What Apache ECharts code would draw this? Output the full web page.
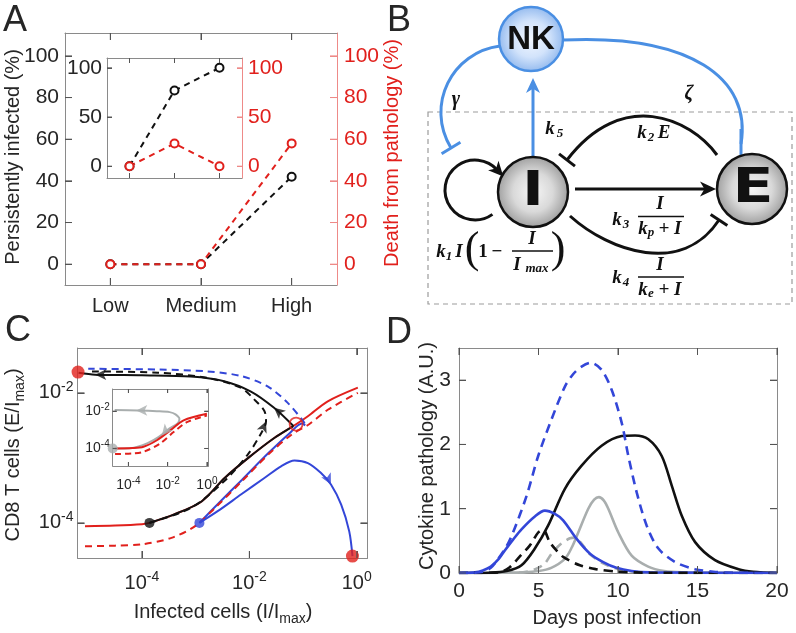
<!DOCTYPE html>
<html><head><meta charset="utf-8">
<script src="https://cdn.jsdelivr.net/npm/echarts@6/dist/echarts.min.js"></script>
<style>html,body{margin:0;padding:0;background:#fff}#c{width:796px;height:633px}</style>
</head><body><div id="c"></div>
<script>
// ---------------- Panel A data ----------------
const aCategories = ['Low', 'Medium', 'High'];
const aPersistent = [0, 0, 42];
const aDeath = [0, 0, 58];
const aTicks = [0, 20, 40, 60, 80, 100];
const aInsetPersistent = [0, 77, 100];
const aInsetDeath = [0, 23, 0];
const aInsetTicks = [0, 50, 100];

// ---------------- Panel C data (log10 units) ----------------
const cTicksX = [-4, -2, 0];
const cTicksY = [-4, -2];
const cRedSolid = [[-5.06,-4.05],[-4.5,-4.04],[-4,-4.02],[-3.86,-4.0],[-3.4,-3.87],[-2.89,-3.67],[-2.46,-3.31],[-2.02,-3.0],[-1.53,-2.69],[-1.18,-2.51],[-0.91,-2.36],[-0.54,-2.13],[0.02,-1.92]];
const cRedDashed = [[-5.06,-4.36],[-4.5,-4.35],[-4,-4.33],[-3.45,-4.23],[-3.01,-4.05],[-2.64,-3.77],[-2.14,-3.36],[-1.65,-2.95],[-1.21,-2.64],[-0.9,-2.49],[-0.54,-2.26],[0.02,-2.0]];
const cBlackSolidUp = [[-3.86,-4.0],[-3.4,-3.87],[-2.89,-3.67],[-2.46,-3.31],[-2.02,-3.0],[-1.53,-2.69],[-1.18,-2.51]];
const cBlackSolidTop = [[-1.18,-2.51],[-1.54,-2.23],[-1.97,-1.98],[-2.47,-1.82],[-3.09,-1.75],[-4.0,-1.73],[-4.87,-1.72],[-5.18,-1.69]];
const cBlackDashed = [[-3.86,-4.0],[-3.09,-3.77],[-2.47,-3.36],[-2.03,-2.95],[-1.78,-2.62],[-1.69,-2.44],[-1.72,-2.28],[-1.91,-2.1],[-2.16,-1.92],[-2.78,-1.77],[-3.7,-1.69],[-5.0,-1.67]];
const cBlueDashed = [[-0.97,-2.47],[-1.01,-2.42],[-1.29,-2.15],[-1.66,-1.9],[-2.16,-1.74],[-2.78,-1.67],[-3.7,-1.64],[-5.0,-1.63]];
const cBlueSolidUp = [[-2.93,-4.0],[-2.6,-3.72],[-2.14,-3.34],[-1.65,-2.93],[-1.25,-2.62],[-1.02,-2.47],[-0.96,-2.5]];
const cBlueSolidArc = [[-2.93,-4.0],[-2.59,-3.82],[-2.15,-3.56],[-1.72,-3.31],[-1.41,-3.13],[-1.16,-3.04],[-0.91,-3.08],[-0.67,-3.23],[-0.48,-3.41],[-0.29,-3.72],[-0.14,-4.13],[-0.08,-4.51]];
const cRedDots = [[-5.19,-1.68],[-0.08,-4.51]];
const cBlackDot = [[-3.86,-4.0]];
const cBlueDot = [[-2.93,-4.0]];
const cOpenCircle = [[-1.13,-2.48]];
const cBlackArrows = [[-4.87,-1.72,90],[-1.54,-2.23,50],[-1.69,-2.44,-23]];
const cBlueArrows = [[-0.48,-3.41,-153]];
// inset of C
const ciRedSolid = [[-4.68,-4.0],[-3.8,-3.98],[-3.23,-3.91],[-2.55,-3.56],[-1.87,-3.03],[-1.19,-2.49],[0.0,-2.14]];
const ciRedDashed = [[-4.68,-4.3],[-3.8,-4.27],[-3.23,-4.18],[-2.38,-3.73],[-1.7,-3.12],[-1.02,-2.59],[0.0,-2.23]];
const ciGray = [[-4.8,-4.0],[-3.8,-3.97],[-3.0,-3.7],[-2.45,-3.38],[-1.9,-2.92],[-1.5,-2.66],[-1.4,-2.42],[-1.6,-2.17],[-1.9,-2.05],[-2.55,-2.0],[-3.5,-1.96],[-4.7,-1.93]];
const ciGrayDot = [[-4.8,-4.0]];
const ciGrayArrows = [[-3.6,-1.96,90],[-2.3,-3.3,140]];

// ---------------- Panel D data ----------------
const dBlueDashed = [[0,0],[1,0.005],[1.5,0.02],[2,0.08],[2.46,0.22],[3,0.42],[3.4,0.63],[4.25,1.2],[4.98,1.82],[5.82,2.39],[6.66,2.9],[7.2,3.1],[7.71,3.21],[8.3,3.27],[8.97,3.16],[9.6,2.85],[10.23,2.34],[10.65,1.82],[11.18,1.25],[11.8,0.74],[12.54,0.38],[13.6,0.17],[14.85,0.06],[16,0.02],[17,0.005],[20,0]];
const dBlackSolid = [[0,0],[2,0.005],[3,0.03],[3.93,0.12],[4.77,0.38],[5.61,0.74],[6.66,1.31],[7.71,1.67],[8.97,1.98],[10.23,2.13],[11.07,2.14],[11.91,2.08],[12.75,1.82],[13.38,1.36],[14.01,0.89],[14.85,0.48],[16.1,0.2],[17.58,0.06],[18.5,0.02],[20,0]];
const dBlueSolid = [[0,0],[1,0.01],[1.5,0.04],[2,0.1],[2.5,0.22],[2.88,0.35],[3.4,0.52],[3.93,0.68],[4.77,0.88],[5.4,0.97],[6.03,0.92],[6.55,0.82],[7.4,0.53],[8.24,0.3],[9.07,0.17],[9.9,0.08],[10.86,0.03],[12,0.01],[20,0]];
const dBlackDashed = [[0,0],[2.5,0.01],[3.19,0.09],[3.8,0.25],[4.46,0.43],[4.98,0.63],[5.3,0.67],[5.71,0.48],[6.1,0.36],[6.55,0.25],[7.6,0.12],[8.6,0.06],[10,0.02],[12,0.005],[20,0]];
const dGraySolid = [[0,0],[3,0.005],[4,0.01],[5,0.03],[5.8,0.08],[6.66,0.22],[7.1,0.4],[7.5,0.63],[8.13,1.0],[8.5,1.14],[8.8,1.18],[9.1,1.13],[9.39,1.0],[10.02,0.63],[10.86,0.27],[11.9,0.1],[12.9,0.03],[14,0.01],[20,0]];
const dGrayDashed = [[0,0],[4,0.01],[4.8,0.06],[5.4,0.15],[5.82,0.3],[6.4,0.45],[6.98,0.54],[7.3,0.55],[7.7,0.46],[8.24,0.29],[9.07,0.15],[10,0.06],[11,0.02],[12,0.005],[20,0]];
const dTicksX = [0, 5, 10, 15, 20];
const dTicksY = [0, 1, 2, 3];

// ---------------- styling ----------------
const FONT = "'Liberation Sans', Arial, Helvetica, sans-serif";
const SERIF = "'Liberation Serif', 'DejaVu Serif', serif";
const AX = '#8a8a8a';
const TK = '#555555';
const TXT = '#262626';
const RED = '#e1201c';
const RED_AX = '#ee8a88';
const BLUE = '#3346d8';
const GRAY = '#a9aeae';
const BBLUE = '#4a8fe3';

function ax(base, tickVals, labelOpt, color, tickLen, tickColor) {
  const isCat = base.type === 'category';
  const tick = { show: true, inside: true, length: tickLen || 7, lineStyle: { color: tickColor || TK, width: 1 } };
  if (isCat) tick.alignWithLabel = true;
  if (tickVals) tick.customValues = tickVals;
  const a = Object.assign({
    axisLine: { show: true, onZero: false, lineStyle: { color: color || AX, width: 1 } },
    axisTick: tick,
    splitLine: { show: false },
    axisLabel: { show: false }
  }, base);
  if (labelOpt) {
    a.axisLabel = Object.assign({ show: true, color: TXT, fontSize: 21, fontFamily: FONT }, labelOpt);
    if (isCat) a.axisLabel.interval = 0;
    if (tickVals && !labelOpt.customValues) a.axisLabel.customValues = tickVals;
  }
  return a;
}
const supRich = (size, sup) => ({
  b: { fontSize: size, fontFamily: FONT, color: TXT },
  s: { fontSize: sup, fontFamily: FONT, color: TXT, padding: [0, 0, Math.round(size * 0.6), 0] }
});
const pow10 = v => '{b|10}{s|' + (Math.abs(v) < 1e-9 ? '0' : String(Math.round(v))) + '}';

const xAxes = [
  ax({ gridIndex: 0, type: 'category', data: aCategories, position: 'bottom', boundaryGap: true }, null, { margin: 11, fontSize: 20 }),
  ax({ gridIndex: 0, type: 'category', data: aCategories, position: 'top', boundaryGap: true }),
  ax({ gridIndex: 1, type: 'category', data: aCategories, position: 'bottom', boundaryGap: true }, null, null, null, 5),
  ax({ gridIndex: 1, type: 'category', data: aCategories, position: 'top', boundaryGap: true }, null, null, null, 5),
  ax({ gridIndex: 2, type: 'value', min: -5.2, max: 0.2, position: 'bottom' }, cTicksX, { formatter: pow10, rich: supRich(20, 14), margin: 12 }),
  ax({ gridIndex: 2, type: 'value', min: -5.2, max: 0.2, position: 'top' }, cTicksX),
  ax({ gridIndex: 3, type: 'value', min: -4.8, max: 0.07, position: 'bottom' }, cTicksX, { formatter: pow10, rich: supRich(14, 10), margin: 10 }, null, 4),
  ax({ gridIndex: 3, type: 'value', min: -4.8, max: 0.07, position: 'top' }, cTicksX, null, null, 4),
  ax({ gridIndex: 4, type: 'value', min: 0, max: 20, position: 'bottom' }, dTicksX, { margin: 8 }),
  ax({ gridIndex: 4, type: 'value', min: 0, max: 20, position: 'top' }, dTicksX)
];

const yAxes = [
  ax({ gridIndex: 0, type: 'value', min: -10, max: 111, position: 'left' }, aTicks, { margin: 6 }),
  ax({ gridIndex: 0, type: 'value', min: -10, max: 111, position: 'right' }, aTicks, { margin: 7, color: RED }, RED_AX, 7, RED_AX),
  ax({ gridIndex: 1, type: 'value', min: -12, max: 110, position: 'left' }, aInsetTicks, { margin: 5 }, null, 5),
  ax({ gridIndex: 1, type: 'value', min: -12, max: 110, position: 'right' }, aInsetTicks, { margin: 6, color: RED }, RED_AX, 5, RED_AX),
  ax({ gridIndex: 2, type: 'value', min: -4.54, max: -1.31, position: 'left' }, cTicksY, { formatter: pow10, rich: supRich(20, 14), margin: 4 }),
  ax({ gridIndex: 2, type: 'value', min: -4.54, max: -1.31, position: 'right' }, cTicksY),
  ax({ gridIndex: 3, type: 'value', min: -4.94, max: -0.81, position: 'left' }, cTicksY, { formatter: pow10, rich: supRich(14, 10), margin: 3 }, null, 4),
  ax({ gridIndex: 3, type: 'value', min: -4.94, max: -0.81, position: 'right' }, cTicksY, null, null, 4),
  ax({ gridIndex: 4, type: 'value', min: 0, max: 3.5, position: 'left' }, dTicksY, { margin: 8 }),
  ax({ gridIndex: 4, type: 'value', min: 0, max: 3.5, position: 'right' }, dTicksY)
];

function lineS(data, xi, yi, color, width, dash, smooth, z) {
  return { type: 'line', data, xAxisIndex: xi, yAxisIndex: yi, symbol: 'none', smooth: smooth,
    lineStyle: { color, width, type: dash || 'solid', cap: 'butt' }, z: z || 2, silent: true, animation: false };
}
function markA(data, xi, yi, color) {
  return { type: 'line', data, xAxisIndex: xi, yAxisIndex: yi, symbol: 'emptyCircle', symbolSize: 8,
    itemStyle: { color: color, borderColor: color, borderWidth: 1.8 },
    lineStyle: { color, width: 2, type: [6, 5] }, z: 3, silent: true, animation: false };
}
function dots(data, xi, yi, color, size, z) {
  return { type: 'scatter', data, xAxisIndex: xi, yAxisIndex: yi, symbolSize: size, clip: false,
    itemStyle: { color }, z: z || 5, silent: true, animation: false };
}
function arrows(data, xi, yi, color, size) {
  return { type: 'scatter', xAxisIndex: xi, yAxisIndex: yi, symbol: 'arrow', symbolSize: size, clip: false,
    data: data.map(d => ({ value: [d[0], d[1]], symbolRotate: d[2] })),
    itemStyle: { color }, z: 6, silent: true, animation: false };
}

const series = [
  markA(aPersistent, 0, 0, '#111'),
  markA(aDeath, 0, 1, RED),
  markA(aInsetPersistent, 2, 2, '#111'),
  markA(aInsetDeath, 2, 3, RED),
  lineS(cBlueSolidUp, 4, 4, BLUE, 2, 'solid', 0.3, 2),
  lineS(cRedSolid, 4, 4, RED, 2, 'solid', 0.3, 2),
  lineS(cRedDashed, 4, 4, RED, 2, [7, 5], 0.3, 2),
  lineS(cBlueDashed, 4, 4, BLUE, 2, [7, 5], 0.3, 2),
  lineS(cBlackDashed, 4, 4, '#111', 2, [7, 5], 0.3, 3),
  lineS(cBlackSolidUp, 4, 4, '#111', 2, 'solid', 0.3, 3),
  lineS(cBlackSolidTop, 4, 4, '#111', 2, 'solid', 0.3, 3),
  lineS(cBlueSolidArc, 4, 4, BLUE, 2, 'solid', 0.3, 3),
  dots(cRedDots, 4, 4, RED, 13),
  dots(cBlackDot, 4, 4, '#111', 10),
  dots(cBlueDot, 4, 4, BLUE, 10),
  { type: 'scatter', data: cOpenCircle, xAxisIndex: 4, yAxisIndex: 4, symbol: 'circle', symbolSize: 13, clip: false,
    itemStyle: { color: 'rgba(0,0,0,0)', borderColor: RED, borderWidth: 1.8 }, z: 6, silent: true, animation: false },
  arrows(cBlackArrows, 4, 4, '#111', [8, 11]),
  arrows(cBlueArrows, 4, 4, BLUE, [8, 11]),
  lineS(ciGray, 6, 6, GRAY, 2, 'solid', 0.3, 2),
  lineS(ciRedSolid, 6, 6, RED, 2, 'solid', 0.3, 3),
  lineS(ciRedDashed, 6, 6, RED, 2, [6, 4], 0.3, 3),
  dots(ciGrayDot, 6, 6, GRAY, 10),
  arrows(ciGrayArrows, 6, 6, GRAY, [8, 11]),
  lineS(dGraySolid, 8, 8, GRAY, 2.6, 'solid', 0.3, 2),
  lineS(dGrayDashed, 8, 8, GRAY, 2.6, [9, 6], 0.3, 2),
  lineS(dBlackSolid, 8, 8, '#111', 2.6, 'solid', 0.3, 3),
  lineS(dBlueSolid, 8, 8, BLUE, 2.6, 'solid', 0.3, 3),
  lineS(dBlackDashed, 8, 8, '#111', 2.6, [9, 6], 0.3, 4),
  lineS(dBlueDashed, 8, 8, BLUE, 2.6, [9, 6], 0.3, 4)
];

function txt(text, x, y, size, o) {
  o = o || {};
  return { type: 'text', x, y, rotation: o.rot || 0, scaleX: o.sx || 1, z: o.z || 120,
    style: { text, fontSize: size, fontFamily: o.font || FONT, fontWeight: o.weight || 'normal', fontStyle: o.style || 'normal',
      fill: o.color || TXT, align: 'center', verticalAlign: 'middle', textAlign: 'center', textVerticalAlign: 'middle', rich: o.rich } };
}
function fx(text, x, y, size, o) {
  o = Object.assign({ font: SERIF, weight: 'bold', style: 'italic', color: '#111' }, o || {});
  return txt(text, x, y, size, o);
}
function head(tx, ty, ang, len, wid, color) {
  const c = Math.cos(ang), s = Math.sin(ang);
  const bx = tx - c * len, by = ty - s * len;
  const px = -s * wid / 2, py = c * wid / 2;
  const nx = tx - c * len * 0.72, ny = ty - s * len * 0.72;
  return { type: 'polygon', z: 110, shape: { points: [[tx, ty], [bx + px, by + py], [nx, ny], [bx - px, by - py]] }, style: { fill: color } };
}
function tbar(x, y, ang, half, color, w) {
  const px = -Math.sin(ang) * half, py = Math.cos(ang) * half;
  return { type: 'line', z: 110, shape: { x1: x - px, y1: y - py, x2: x + px, y2: y + py }, style: { stroke: color, lineWidth: w } };
}
function bez(p0, c1, c2, p3, color, w) {
  return { type: 'bezierCurve', z: 105, shape: { x1: p0[0], y1: p0[1], cpx1: c1[0], cpy1: c1[1], cpx2: c2[0], cpy2: c2[1], x2: p3[0], y2: p3[1] },
    style: { stroke: color, lineWidth: w, fill: null } };
}
const angOf = (a, b) => Math.atan2(b[1] - a[1], b[0] - a[0]);

const G = [];
G.push(txt('A', 15, 21, 36), txt('B', 399, 21, 36), txt('C', 18, 331, 36), txt('D', 399, 333, 36));
G.push(txt('Persistently infected (%)', 13, 157, 20, { rot: Math.PI / 2 }));
G.push(txt('Death from pathology (%)', 392, 153, 20, { rot: Math.PI / 2, color: RED }));
G.push(txt('{m|CD8 T cells (E/I}{sub|max}{m|)}', 13, 455, 20, { rot: Math.PI / 2,
  rich: { m: { fontSize: 20, fontFamily: FONT, fill: TXT, color: TXT }, sub: { fontSize: 14, fontFamily: FONT, fill: TXT, color: TXT, padding: [14, 0, 0, 0] } } }));
G.push(txt('{m|Infected cells (I/I}{sub|max}{m|)}', 223, 612, 20,
  { rich: { m: { fontSize: 20, fontFamily: FONT, fill: TXT, color: TXT }, sub: { fontSize: 14, fontFamily: FONT, fill: TXT, color: TXT, padding: [14, 0, 0, 0] } } }));
G.push(txt('Cytokine pathology (A.U.)', 427, 456, 20, { rot: Math.PI / 2 }));
G.push(txt('Days post infection', 617, 618, 20));

// ---- Panel B ----
G.push({ type: 'rect', z: 100, shape: { x: 428, y: 112, width: 364, height: 192 }, style: { fill: null, stroke: '#9c9c9c', lineWidth: 1.2, lineDash: [5, 4] } });
{
  const p0 = [500, 46], c1 = [452, 52], c2 = [425, 105], p3 = [451, 148];
  G.push(bez(p0, c1, c2, p3, BBLUE, 3));
  G.push(tbar(p3[0], p3[1], angOf(c2, p3), 11, BBLUE, 3));
}
{
  const p0 = [563, 40], c1 = [690, 34], c2 = [752, 78], p3 = [741, 144];
  G.push(bez(p0, c1, c2, p3, BBLUE, 3));
  G.push(tbar(p3[0], p3[1], 0, 15, BBLUE, 3));
}
G.push({ type: 'line', z: 105, shape: { x1: 533, y1: 157, x2: 533, y2: 88 }, style: { stroke: BBLUE, lineWidth: 3 } });
G.push(head(533, 78, -Math.PI / 2, 15, 14, BBLUE));
G.push({ type: 'line', z: 105, shape: { x1: 575, y1: 189, x2: 706, y2: 189 }, style: { stroke: '#111', lineWidth: 3 } });
G.push(head(716, 189, 0, 16, 15, '#111'));
{
  const p0 = [717, 155], c1 = [690, 118], c2 = [622, 88], p3 = [567, 160];
  G.push(bez(p0, c1, c2, p3, '#111', 3));
  G.push(tbar(p3[0], p3[1], angOf(c2, p3), 10, '#111', 3));
}
{
  const p0 = [570, 216], c1 = [610, 252], c2 = [682, 276], p3 = [719, 220];
  G.push(bez(p0, c1, c2, p3, '#111', 3));
  G.push(tbar(p3[0], p3[1], angOf(c2, p3), 10, '#111', 3));
}
{
  const cx = 475, cy = 190, r = 30, a0 = 0.95, a1 = 5.55;
  G.push({ type: 'arc', z: 105, shape: { cx, cy, r, startAngle: a0, endAngle: a1, clockwise: true }, style: { stroke: '#111', lineWidth: 3, fill: null } });
  const ex = cx + r * Math.cos(a1), ey = cy + r * Math.sin(a1);
  const ang = Math.atan2(Math.cos(a1), -Math.sin(a1));
  G.push(head(ex + Math.cos(ang) * 9, ey + Math.sin(ang) * 9, ang, 15, 14, '#111'));
}
const grayGrad = new echarts.graphic.RadialGradient(0.5, 0.5, 0.5, [{ offset: 0, color: '#f6f6f6' }, { offset: 0.55, color: '#d9d9d9' }, { offset: 1, color: '#9d9d9d' }]);
const blueGrad = new echarts.graphic.RadialGradient(0.5, 0.5, 0.5, [{ offset: 0, color: '#f2f7ff' }, { offset: 0.55, color: '#d2e3fb' }, { offset: 1, color: '#92b9ee' }]);
G.push({ type: 'circle', z: 115, shape: { cx: 533, cy: 192, r: 35 }, style: { fill: grayGrad, stroke: '#111', lineWidth: 2.5 } });
G.push({ type: 'circle', z: 115, shape: { cx: 752, cy: 189, r: 35 }, style: { fill: grayGrad, stroke: '#111', lineWidth: 2.5 } });
G.push({ type: 'circle', z: 115, shape: { cx: 531, cy: 39, r: 32 }, style: { fill: blueGrad, stroke: BBLUE, lineWidth: 2.5 } });
G.push(txt('I', 533, 193, 48, { font: "'DejaVu Sans', sans-serif", weight: 'bold', color: '#111', sx: 1.2 }));
G.push(txt('E', 753, 190, 48, { font: "'DejaVu Sans', sans-serif", weight: 'bold', color: '#111', sx: 1.25 }));
G.push(txt('NK', 531, 40, 33, { font: FONT, weight: 'bold', color: '#111' }));
G.push(fx('γ', 456, 100, 20), fx('ζ', 689, 94, 20));
G.push(fx('k', 550, 129, 19), fx('5', 560, 134, 13));
G.push(fx('k', 642, 133, 19), fx('2', 651, 138, 13), fx('E', 664, 133, 19));
G.push(fx('k', 617, 220, 19), fx('3', 626, 225, 13));
G.push(fx('I', 660, 204, 19));
G.push({ type: 'line', z: 110, shape: { x1: 638, y1: 216.5, x2: 684, y2: 216.5 }, style: { stroke: '#111', lineWidth: 1.5 } });
G.push(fx('k', 643, 229, 19), fx('p', 651, 233, 13), fx('+ I', 670, 229, 19));
G.push(fx('k', 617, 278, 19), fx('4', 626, 283, 13));
G.push(fx('I', 660, 265, 19));
G.push({ type: 'line', z: 110, shape: { x1: 638, y1: 277, x2: 684, y2: 277 }, style: { stroke: '#111', lineWidth: 1.5 } });
G.push(fx('k', 643, 290, 19), fx('e', 651, 294, 13), fx('+ I', 670, 290, 19));
G.push(fx('k', 441, 252, 19), fx('1', 449, 257, 13), fx('I', 459, 252, 19));
G.push(fx('(', 472, 250, 44, { weight: 'normal', style: 'normal' }));
G.push(fx('1', 483, 252, 19, { style: 'normal' }), fx('−', 497, 252, 19, { style: 'normal' }));
G.push(fx('I', 532, 239, 19));
G.push({ type: 'line', z: 110, shape: { x1: 512, y1: 251, x2: 553, y2: 251 }, style: { stroke: '#111', lineWidth: 1.5 } });
G.push(fx('I', 517, 265, 19), fx('max', 537, 269, 13));
G.push(fx(')', 558, 250, 44, { weight: 'normal', style: 'normal' }));

const option = {
  animation: false,
  backgroundColor: '#fff',
  grid: [
    { left: 65, top: 33, width: 272, height: 252, containLabel: false },
    { left: 107, top: 58, width: 135, height: 120, show: true, backgroundColor: '#fff', borderWidth: 0 },
    { left: 77.5, top: 348, width: 290, height: 210 },
    { left: 112.7, top: 389, width: 95.6, height: 77, show: true, backgroundColor: '#fff', borderWidth: 0 },
    { left: 459, top: 348, width: 318, height: 225 }
  ],
  xAxis: xAxes,
  yAxis: yAxes,
  series: series,
  graphic: { elements: G }
};
const chart = echarts.init(document.getElementById('c'), null, { renderer: 'canvas', width: 796, height: 633 });
chart.setOption(option);

// Inward tick marks placed through the library's own axis scales (convertToPixel)
const tickSpecs = [
  { xi: 0, yi: 0, cat: true, yVals: aTicks, yMin: -10, yMax: 111, len: 7, rightColor: RED_AX },
  { xi: 2, yi: 2, cat: true, yVals: aInsetTicks, yMin: -12, yMax: 110, len: 5, rightColor: RED_AX },
  { xi: 4, yi: 4, xVals: cTicksX, yVals: cTicksY, xMin: -5.2, xMax: 0.2, yMin: -4.54, yMax: -1.31, len: 7 },
  { xi: 6, yi: 6, xVals: cTicksX, yVals: cTicksY, xMin: -4.8, xMax: 0.07, yMin: -4.94, yMax: -0.81, len: 4 },
  { xi: 8, yi: 8, xVals: dTicksX, yVals: dTicksY, xMin: 0, xMax: 20, yMin: 0, yMax: 3.5, len: 7 }
];
function tl(x1, y1, x2, y2, c) { return { type: 'line', z: 60, silent: true, shape: { x1, y1, x2, y2 }, style: { stroke: c, lineWidth: 1 } }; }
const TE = [];
try {
  tickSpecs.forEach(t => {
    const px = v => chart.convertToPixel({ xAxisIndex: t.xi }, v);
    const py = v => chart.convertToPixel({ yAxisIndex: t.yi }, v);
    let xL, xR, xv;
    if (t.cat) {
      const p0 = px(aCategories[0]), p1 = px(aCategories[1]), p2 = px(aCategories[2]);
      const half = (p1 - p0) / 2; xL = p0 - half; xR = p2 + half; xv = aCategories;
    } else { xL = px(t.xMin); xR = px(t.xMax); xv = t.xVals; }
    const yB = py(t.yMin), yT = py(t.yMax);
    xv.forEach(v => { const x = px(v); if (isFinite(x)) { TE.push(tl(x, yB, x, yB - t.len, TK)); TE.push(tl(x, yT, x, yT + t.len, TK)); } });
    t.yVals.forEach(v => { const y = py(v); if (isFinite(y)) { TE.push(tl(xL, y, xL + t.len, y, TK)); TE.push(tl(xR, y, xR - t.len, y, t.rightColor || TK)); } });
  });
  chart.setOption({ graphic: { elements: G.concat(TE) } });
} catch (e) { /* keep chart without extra ticks */ }
</script></body></html>
